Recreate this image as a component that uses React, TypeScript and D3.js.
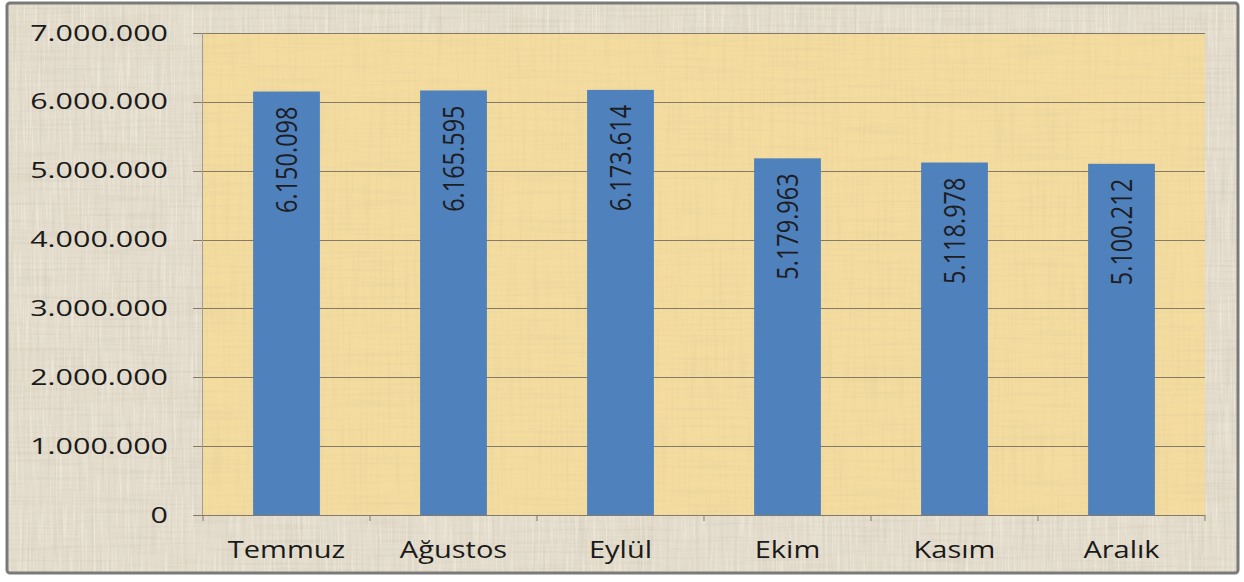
import React from "react";
import * as d3 from "d3";

const categories = ["Temmuz", "Ağustos", "Eylül", "Ekim", "Kasım", "Aralık"];
const values = [6150098, 6165595, 6173614, 5179963, 5118978, 5100212];
const yTicks = [0, 1000000, 2000000, 3000000, 4000000, 5000000, 6000000, 7000000];

const W = 1244;
const H = 582;
const plot = { left: 203, right: 1205, top: 33, bottom: 515 };

const fmt = (v: number) => d3.format(",")(v).replace(/,/g, ".");

export default function App() {
  const x = d3
    .scaleBand<string>()
    .domain(categories)
    .range([plot.left, plot.right])
    .paddingInner(0.6)
    .paddingOuter(0.3);
  const band = (plot.right - plot.left) / categories.length;
  const y = d3.scaleLinear().domain([0, 7000000]).range([plot.bottom, plot.top]);

  const font = "'Open Sans', 'DejaVu Sans', sans-serif";

  return (
    <svg
      width={W}
      height={H}
      style={{ position: "absolute", left: 0, top: 0, display: "block" }}
    >
      <defs>
        <filter id="fibersV" x="0" y="0" width="100%" height="100%">
          <feTurbulence type="fractalNoise" baseFrequency="0.35 0.012" numOctaves="2" seed="3" result="n" />
          <feColorMatrix
            in="n"
            type="matrix"
            values="0 0 0 0 0.45  0 0 0 0 0.40  0 0 0 0 0.30  0 0 0 1.6 -0.75"
          />
        </filter>
        <filter id="fibersH" x="0" y="0" width="100%" height="100%">
          <feTurbulence type="fractalNoise" baseFrequency="0.012 0.35" numOctaves="2" seed="7" result="n" />
          <feColorMatrix
            in="n"
            type="matrix"
            values="0 0 0 0 0.45  0 0 0 0 0.40  0 0 0 0 0.30  0 0 0 1.6 -0.75"
          />
        </filter>
        <filter id="fibersLight" x="0" y="0" width="100%" height="100%">
          <feTurbulence type="fractalNoise" baseFrequency="0.5 0.02" numOctaves="2" seed="11" result="n" />
          <feColorMatrix
            in="n"
            type="matrix"
            values="0 0 0 0 1  0 0 0 0 1  0 0 0 0 0.95  0 0 0 1.6 -0.8"
          />
        </filter>
      </defs>

      {/* outer chart area */}
      <rect x={7} y={3} width={1231} height={570} rx={3} fill="#e4ddcd" />
      <rect x={7} y={3} width={1231} height={570} fill="#000" filter="url(#fibersV)" opacity={0.25} />
      <rect x={7} y={3} width={1231} height={570} fill="#000" filter="url(#fibersH)" opacity={0.25} />
      <rect x={7} y={3} width={1231} height={570} fill="#000" filter="url(#fibersLight)" opacity={0.6} />

      {/* plot area */}
      <rect
        x={plot.left}
        y={plot.top}
        width={plot.right - plot.left}
        height={plot.bottom - plot.top}
        fill="#f4dc9f"
      />
      <rect
        x={plot.left}
        y={plot.top}
        width={plot.right - plot.left}
        height={plot.bottom - plot.top}
        fill="#000"
        filter="url(#fibersV)"
        opacity={0.15}
      />
      <rect
        x={plot.left}
        y={plot.top}
        width={plot.right - plot.left}
        height={plot.bottom - plot.top}
        fill="#000"
        filter="url(#fibersH)"
        opacity={0.15}
      />

      <rect
        x={7}
        y={3}
        width={1231}
        height={570}
        rx={3}
        fill="none"
        stroke="#7a7a7a"
        strokeWidth={3}
      />

      {/* gridlines + y ticks */}
      {yTicks.map((t) => (
        <line
          key={"g" + t}
          x1={plot.left - 10}
          x2={plot.right}
          y1={Math.round(y(t)) + 0.5}
          y2={Math.round(y(t)) + 0.5}
          stroke="#847a66"
          strokeWidth={1}
        />
      ))}

      {/* y axis line */}
      <line
        x1={plot.left - 0.5}
        x2={plot.left - 0.5}
        y1={plot.top}
        y2={plot.bottom}
        stroke="#a49c8c"
        strokeWidth={1}
      />

      {/* x axis ticks */}
      {d3.range(categories.length + 1).map((i) => (
        <line
          key={"xt" + i}
          x1={plot.left + i * band}
          x2={plot.left + i * band}
          y1={plot.bottom}
          y2={plot.bottom + 6}
          stroke="#847a66"
          strokeWidth={1}
        />
      ))}

      {/* bars */}
      {categories.map((c, i) => (
        <rect
          key={"b" + c}
          x={x(c)}
          y={y(values[i])}
          width={x.bandwidth()}
          height={y(0) - y(values[i])}
          fill="#4f81bd"
        />
      ))}

      {/* value labels */}
      {categories.map((c, i) => (
        <g
          key={"v" + c}
          transform={`translate(${(x(c) as number) + x.bandwidth() / 2},${y(values[i]) + 15}) scale(1.24,1) rotate(-90)`}
        >
          <text
            textAnchor="end"
            dy="0.357em"
            fontFamily={font}
            fontSize={23.5}
            fill="#1d1d24"
          >
            {fmt(values[i])}
          </text>
        </g>
      ))}

      {/* y labels */}
      {yTicks.map((t) => (
        <g key={"yl" + t} transform={`translate(168,${y(t)}) scale(1.45,1)`}>
          <text
            textAnchor="end"
            dy="0.357em"
            fontFamily={font}
            fontSize={21}
            fill="#1a1a1a"
          >
            {fmt(t)}
          </text>
        </g>
      ))}

      {/* x labels */}
      {categories.map((c) => (
        <g
          key={"xl" + c}
          transform={`translate(${(x(c) as number) + x.bandwidth() / 2},558) scale(1.22,1)`}
        >
          <text textAnchor="middle" fontFamily={font} fontSize={23.8} fill="#1a1a1a">
            {c}
          </text>
        </g>
      ))}
    </svg>
  );
}
